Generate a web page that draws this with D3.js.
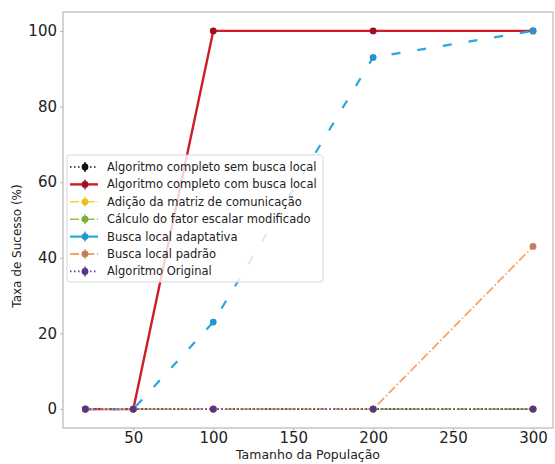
<!DOCTYPE html>
<html>
<head>
<meta charset="utf-8">
<script src="https://cdn.jsdelivr.net/npm/d3@7"></script>
<style>
  html, body { margin: 0; padding: 0; background: #fff; }
  svg { display: block; font-family: "DejaVu Sans", sans-serif; }
</style>
</head>
<body>
<svg id="chart" width="555" height="464"></svg>
<script>
// Population sizes tested
const populacao = [20, 50, 100, 200, 300];
const yTicks = [0, 20, 40, 60, 80, 100];
const xTicks = [50, 100, 150, 200, 250, 300];

// Success rate (%) for each algorithm variant
const semBuscaLocal = [0, 0, 0, 0, 0];
const comBuscaLocal = [0, 0, 100, 100, 100];
const matrizComunicacao = [0, 0, 0, 0, 0];
const fatorEscalar = [0, 0, 0, 0, 0];
const buscaAdaptativa = [0, 0, 23, 93, 100];
const buscaPadrao = [0, 0, 0, 0, 43];
const algoritmoOriginal = [0, 0, 0, 0, 0];

const seriesNames = [
  "Algoritmo completo sem busca local",
  "Algoritmo completo com busca local",
  "Adição da matriz de comunicação",
  "Cálculo do fator escalar modificado",
  "Busca local adaptativa",
  "Busca local padrão",
  "Algoritmo Original"
];
const seriesValues = [semBuscaLocal, comBuscaLocal, matrizComunicacao, fatorEscalar,
                      buscaAdaptativa, buscaPadrao, algoritmoOriginal];
const seriesColors = ["#111111", "#d01c28", "#f5d327", "#8cc63f", "#2aa6e0", "#f2a56a", "#6a3d9a"];
const seriesDash = ["1.5,2.5", null, "9,2.5,1.5,2.5", "9,2.5,1.5,2.5", "9,17", "9,2.5,1.5,2.5", "1.5,2.5"];
const seriesWidth = [1.6, 2.4, 1.6, 1.6, 2.2, 1.8, 1.6];
const markerColors = ["#111111", "#9e1020", "#e8c020", "#7ab030", "#2496cc", "#c08060", "#5a3288"];

const svg = d3.select("#chart");
const mLeft = 63, mRight = 553, mTop = 12, mBottom = 428;

const x = d3.scaleLinear().domain([6, 312.5]).range([mLeft, mRight]);
const y = d3.scaleLinear().domain([-5, 105]).range([mBottom, mTop]);

// Frame
svg.append("rect")
  .attr("x", mLeft).attr("y", mTop)
  .attr("width", mRight - mLeft).attr("height", mBottom - mTop)
  .attr("fill", "none").attr("stroke", "#b8b8b8").attr("stroke-width", 1.2);

// Axes
const xAxis = svg.append("g").attr("transform", `translate(0,${mBottom})`)
  .call(d3.axisBottom(x).tickValues(xTicks).tickSize(3).tickPadding(1));
const yAxis = svg.append("g").attr("transform", `translate(${mLeft},0)`)
  .call(d3.axisLeft(y).tickValues(yTicks).tickSize(3).tickPadding(3));
[xAxis, yAxis].forEach(a => {
  a.select(".domain").remove();
  a.selectAll(".tick line").attr("stroke", "#b8b8b8");
  a.selectAll(".tick text").attr("fill", "#222").style("font-size", "15px")
    .style("font-family", "DejaVu Sans, sans-serif");
});

// Axis titles
svg.append("text")
  .attr("x", (mLeft + mRight) / 2).attr("y", 459)
  .attr("text-anchor", "middle").attr("fill", "#222")
  .style("font-size", "12.5px").text("Tamanho da População");
svg.append("text")
  .attr("transform", "translate(21,246) rotate(-90)")
  .attr("text-anchor", "middle").attr("fill", "#222")
  .style("font-size", "12px").text("Taxa de Sucesso (%)");

// Series lines and markers
const line = d3.line().x((d, i) => x(populacao[i])).y(d => y(d));
const plot = svg.append("g");
seriesValues.forEach((vals, k) => {
  plot.append("path")
    .datum(vals)
    .attr("d", line)
    .attr("fill", "none")
    .attr("stroke", seriesColors[k])
    .attr("stroke-width", seriesWidth[k])
    .attr("stroke-dasharray", seriesDash[k])
    .attr("stroke-linejoin", "round");
  plot.selectAll(null)
    .data(vals)
    .join("circle")
    .attr("cx", (d, i) => x(populacao[i]))
    .attr("cy", d => y(d))
    .attr("r", 3.4)
    .attr("fill", markerColors[k]);
});

// Legend
const lg = svg.append("g").attr("transform", "translate(67,155)");
lg.append("rect")
  .attr("x", 0).attr("y", 0).attr("width", 256).attr("height", 127)
  .attr("rx", 3)
  .attr("fill", "#fff").attr("fill-opacity", 0.8)
  .attr("stroke", "#d8d8d8");
seriesNames.forEach((name, k) => {
  const cy = 12 + k * 17.4;
  const g = lg.append("g").attr("transform", `translate(0,${cy})`);
  g.append("line")
    .attr("x1", 3).attr("x2", 31).attr("y1", 0).attr("y2", 0)
    .attr("stroke", seriesColors[k]).attr("stroke-width", seriesWidth[k])
    .attr("stroke-dasharray", k === 4 ? null : seriesDash[k]);
  g.append("line")
    .attr("x1", 18).attr("x2", 18).attr("y1", -5).attr("y2", 5)
    .attr("stroke", seriesColors[k]).attr("stroke-width", 1.5);
  g.append("circle").attr("cx", 18).attr("cy", 0).attr("r", 3.4)
    .attr("fill", markerColors[k]);
  g.append("text")
    .attr("x", 40).attr("y", 4)
    .attr("fill", "#222").style("font-size", "11.5px")
    .text(name);
});
</script>
</body>
</html>
